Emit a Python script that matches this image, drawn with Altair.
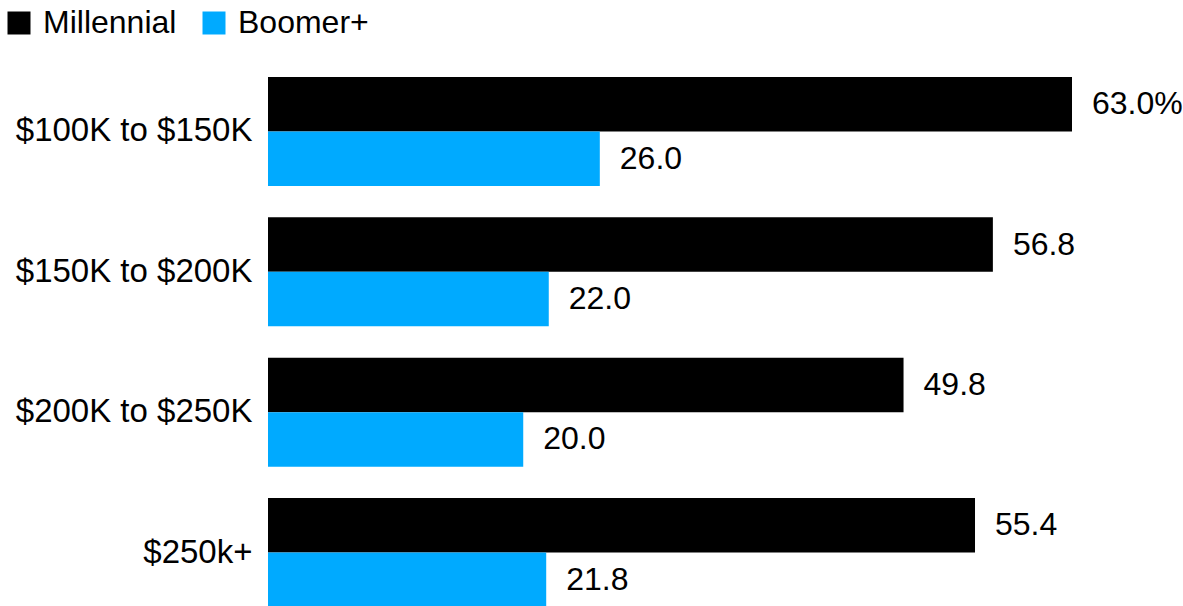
import altair as alt
import pandas as pd

categories = ["$100K to $150K", "$150K to $200K", "$200K to $250K", "$250k+"]
series = ["Millennial", "Boomer+"]
millennial = [63.0, 56.8, 49.8, 55.4]
boomer = [26.0, 22.0, 20.0, 21.8]
millennial_labels = ["63.0%", "56.8", "49.8", "55.4"]
boomer_labels = ["26.0", "22.0", "20.0", "21.8"]
colors = ["#000000", "#00aaff"]

rows = []
for i, c in enumerate(categories):
    rows.append(dict(cat=c, series="Millennial", value=millennial[i], label=millennial_labels[i]))
    rows.append(dict(cat=c, series="Boomer+", value=boomer[i], label=boomer_labels[i]))
df = pd.DataFrame(rows)

FONT = "Liberation Sans"
FS = 32

y = alt.Y("cat:N", sort=categories, title=None,
          scale=alt.Scale(paddingInner=0.224, paddingOuter=0),
          axis=alt.Axis(ticks=False, domain=False, labelFontSize=33, labelFont=FONT,
                        labelColor="black", labelPadding=16, grid=False, labelLimit=0))
yoff = alt.YOffset("series:N", sort=series, scale=alt.Scale(paddingInner=0, paddingOuter=0))
x = alt.X("value:Q", scale=alt.Scale(domain=[0, 63]), axis=None)
color = alt.Color("series:N", sort=series, scale=alt.Scale(domain=series, range=colors),
                  legend=alt.Legend(title=None, orient="none", legendX=-265, legendY=-70,
                                    direction="horizontal", symbolType="square",
                                    symbolSize=529, symbolStrokeWidth=0, symbolOpacity=1,
                                    labelFontSize=FS, labelFont=FONT, labelColor="black",
                                    labelOffset=8, columnPadding=21, padding=0))

bars = alt.Chart(df).mark_bar().encode(y=y, yOffset=yoff, x=x, color=color)
text = alt.Chart(df).mark_text(align="left", dx=20, fontSize=FS, font=FONT, color="black").encode(
    y=y, yOffset=yoff, x=x, text="label:N")

chart = alt.layer(bars, text).properties(
    width=804, height=530,
    padding={"left": 268, "top": 77, "right": 111, "bottom": 0},
    autosize=alt.AutoSizeParams(type="none"),
).configure_view(stroke=None)

chart.save("out.html", embed_options={"renderer": "svg", "actions": False})
